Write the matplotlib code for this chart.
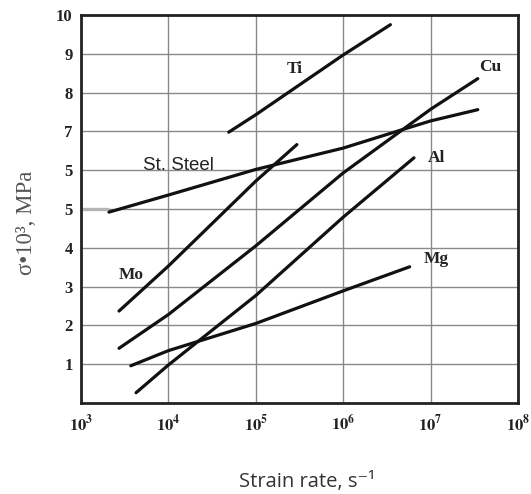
import numpy as np
import matplotlib
matplotlib.use("Agg")
import matplotlib.pyplot as plt

# values (x as log10 of strain rate, y in sigma*10^3 MPa)
ti_x = [4.69, 5.0, 6.0, 6.54]
ti_y = [6.98, 7.43, 8.97, 9.75]
cu_x = [3.435, 4.0, 5.0, 6.0, 7.0, 7.54]
cu_y = [1.41, 2.28, 4.05, 5.93, 7.57, 8.36]
mo_x = [3.435, 4.0, 5.0, 5.47]
mo_y = [2.37, 3.53, 5.72, 6.66]
al_x = [3.63, 4.0, 5.0, 6.0, 6.81]
al_y = [0.265, 0.98, 2.77, 4.79, 6.32]
mg_x = [3.57, 4.0, 5.0, 6.0, 6.76]
mg_y = [0.96, 1.35, 2.05, 2.89, 3.51]
steel_x = [3.32, 4.0, 5.0, 6.0, 6.64, 7.0, 7.54]
steel_y = [4.92, 5.36, 6.02, 6.57, 7.02, 7.27, 7.56]
stub_x = [3.0, 3.32]
stub_y = [5.0, 5.0]

series = [(ti_x, ti_y), (cu_x, cu_y), (mo_x, mo_y), (al_x, al_y), (mg_x, mg_y), (steel_x, steel_y)]

# labels as (text, log10 x, y)
metal_labels = [("Ti", 5.45, 8.62), ("Cu", 7.68, 8.66), ("Al", 7.07, 6.32),
                ("Mg", 7.07, 3.7), ("Mo", 3.57, 3.3)]
steel_label = ("St. Steel", 4.11, 6.12)

x_decades = [3, 4, 5, 6, 7, 8]
y_ticks = [1, 2, 3, 4, 5, 6, 7, 8, 9, 10]
y_ticklabels = ["1", "2", "3", "4", "5", "5", "7", "8", "9", "10"]

plt.rcParams["mathtext.fontset"] = "stix"

fig = plt.figure(figsize=(5.31, 4.94), dpi=100)
ax = fig.add_axes([81 / 531, 1 - 403 / 494, 437 / 531, 388 / 494])

ax.set_xscale("log")
ax.set_xlim(10.0 ** x_decades[0], 10.0 ** x_decades[-1])
ax.set_ylim(0, 10)

ax.grid(True, color="#8a8a8a", linewidth=1.0)
ax.set_axisbelow(True)

ax.plot(10.0 ** np.array(stub_x), stub_y, color="#b5b5b5", linewidth=2.4, solid_capstyle="butt")
for xs, ys in series:
    ax.plot(10.0 ** np.array(xs), ys, color="#111111", linewidth=2.3, solid_capstyle="round")

for name, lx, ly in metal_labels:
    ax.text(10.0 ** lx, ly, name, ha="center", va="center", fontsize=12.5,
            fontweight="bold", family="Liberation Serif", color="#222222")
ax.text(10.0 ** steel_label[1], steel_label[2], steel_label[0], ha="center", va="center",
        fontsize=13.5, family="Liberation Sans", color="#222222")

ax.set_xticks([10.0 ** d for d in x_decades])
ax.set_xticklabels([r"$\mathbf{10^{%d}}$" % d for d in x_decades])
ax.xaxis.set_minor_locator(matplotlib.ticker.NullLocator())
ax.set_yticks(y_ticks)
ax.set_yticklabels(y_ticklabels, family="Liberation Serif", fontweight="bold")
ax.tick_params(axis="x", length=0, pad=8, labelsize=12, labelcolor="#222222")
ax.tick_params(axis="y", length=0, pad=6, labelsize=12, labelcolor="#222222")

for sp in ax.spines.values():
    sp.set_linewidth(2.0)
    sp.set_color("#222222")

fig.text(307 / 531, 1 - 482 / 494, "Strain rate, s\u207b\u00b9", ha="center", va="center",
         fontsize=14.5, family=["Open Sans", "DejaVu Sans"], color="#333333")
fig.text(27 / 531, 1 - 223 / 494, "\u03c3\u202210\u00b3, MPa", ha="center", va="center",
         rotation=90, fontsize=16.5, family="Liberation Serif", color="#555555")

fig.savefig("out.png", dpi=100, facecolor="white")
